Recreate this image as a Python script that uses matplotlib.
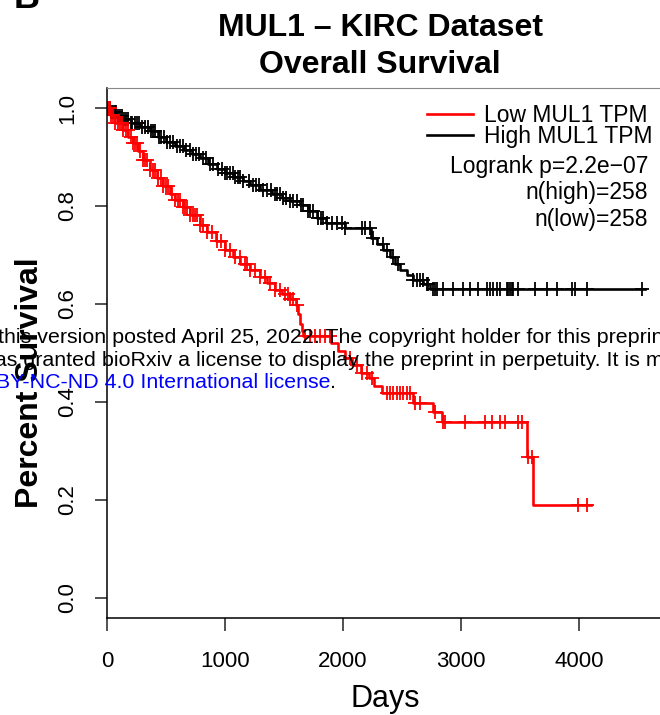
import numpy as np
import matplotlib
matplotlib.use("Agg")
import matplotlib.pyplot as plt

plt.rcParams['font.family'] = ['Liberation Sans', 'DejaVu Sans']

# Kaplan-Meier steps: day of step, survival after it
high_days = [0, 30, 80, 136, 200, 280, 364, 430, 500, 576, 650, 720, 788, 860,
             930, 1000, 1080, 1150, 1212, 1300, 1400, 1480, 1551, 1636, 1700,
             1780, 1860, 2017, 2240, 2290, 2340, 2398, 2440, 2483, 2540, 2593,
             2680, 2740]
high_surv = [1.0, 0.992, 0.984, 0.977, 0.969, 0.961, 0.953, 0.941, 0.930, 0.922,
             0.914, 0.906, 0.898, 0.886, 0.875, 0.867, 0.859, 0.851, 0.843,
             0.833, 0.824, 0.816, 0.810, 0.802, 0.790, 0.776, 0.765, 0.755,
             0.735, 0.722, 0.710, 0.696, 0.682, 0.669, 0.659, 0.649, 0.640, 0.630]
high_end = 4560
high_censor = [5, 12, 20, 28, 35, 45, 55, 65, 78, 90, 110, 125, 140, 160, 180,
               200, 215, 240, 255, 275, 300, 320, 345, 370, 390, 410, 440, 460,
               480, 510, 530, 560, 590, 615, 640, 670, 700, 730, 755, 780, 810,
               840, 870, 900, 940, 975, 1000, 1020, 1042, 1065, 1085, 1110, 1127,
               1153, 1200, 1237, 1260, 1290, 1322, 1356, 1390, 1420, 1441, 1470,
               1492, 1520, 1551, 1580, 1610, 1640, 1661, 1700, 1720, 1746, 1788,
               1810, 1831, 1864, 1907, 1949, 1992, 2017, 2161, 2186, 2229, 2254,
               2339, 2373, 2424, 2466, 2593, 2627, 2653, 2678, 2712, 2720, 2763,
               2780, 2797, 2847, 2932, 3017, 3076, 3144, 3220, 3246, 3271, 3305,
               3331, 3390, 3398, 3415, 3432, 3441, 3483, 3627, 3729, 3814, 3941,
               3966, 4068, 4534]

low_days = [0, 25, 70, 136, 180, 220, 260, 305, 364, 420, 475, 530, 576, 640,
            703, 788, 850, 920, 1000, 1068, 1130, 1212, 1297, 1360, 1424, 1480,
            1551, 1600, 1619, 1636, 1650, 1665, 1900, 1960, 2020, 2080, 2150,
            2220, 2260, 2330, 2593, 2763, 2839, 3559, 3610]
low_surv = [1.0, 0.986, 0.970, 0.955, 0.940, 0.929, 0.912, 0.893, 0.873, 0.857,
            0.841, 0.825, 0.812, 0.797, 0.782, 0.761, 0.746, 0.728, 0.710,
            0.696, 0.682, 0.669, 0.655, 0.642, 0.629, 0.620, 0.610, 0.598,
            0.580, 0.560, 0.545, 0.535, 0.520, 0.505, 0.490, 0.475, 0.460,
            0.448, 0.432, 0.418, 0.398, 0.380, 0.359, 0.288, 0.190]
low_end = 4100
low_censor = [6, 14, 22, 35, 51, 70, 93, 110, 125, 136, 160, 178, 200, 220, 240,
              254, 280, 305, 325, 339, 364, 390, 410, 432, 455, 475, 500, 517,
              551, 576, 602, 619, 644, 661, 678, 703, 725, 746, 763, 788, 814,
              850, 890, 932, 965, 1000, 1042, 1085, 1127, 1169, 1190, 1212, 1254,
              1297, 1339, 1381, 1424, 1466, 1508, 1530, 1551, 1580, 1610, 1678,
              1720, 1763, 1805, 1847, 1890, 2059, 2119, 2161, 2203, 2246, 2373,
              2398, 2424, 2458, 2483, 2508, 2542, 2568, 2610, 2653, 2780, 2847,
              2864, 3034, 3203, 3263, 3331, 3373, 3483, 3517, 3568, 3602, 3990,
              4070]

x_ticks = [0, 1000, 2000, 3000, 4000]
y_ticks = [0.0, 0.2, 0.4, 0.6, 0.8, 1.0]

W, H = 660, 715


def fx(px):
    return px / W


def fy(py):
    return 1 - py / H


fig = plt.figure(figsize=(W / 100, H / 100), dpi=100)
ax = fig.add_axes([fx(107), fy(617.6), (661.6 - 107) / W, (617.6 - 88.4) / H])


def km(days, surv, end, cens, color, label):
    t = np.append(days, end)
    s = np.append(surv, surv[-1])
    line, = ax.step(t, s, where='post', color=color, lw=1.9, label=label)
    idx = np.searchsorted(days, cens, side='right') - 1
    ax.plot(cens, np.array(surv)[idx], ls='none', marker='+', ms=10,
            mew=1.3, color=color)
    return line


h_line = km(high_days, high_surv, high_end, high_censor, 'black', 'High MUL1 TPM')
l_line = km(low_days, low_surv, low_end, low_censor, '#ff0000', 'Low MUL1 TPM')

ax.set_xlim(0, 4700)
ax.set_ylim(-0.04, 1.04)
ax.set_xticks(x_ticks)
ax.set_xticklabels([str(v) for v in x_ticks])
ax.set_yticks(y_ticks)
ax.set_yticklabels(['%.1f' % v for v in y_ticks], rotation=90, va='center')
ax.tick_params(length=9, width=1.1, labelsize=16, color='#222222')
ax.tick_params(axis='x', pad=15)
ax.tick_params(axis='y', pad=12)

for side in ['left', 'bottom']:
    ax.spines[side].set_linewidth(1.1)
ax.spines['top'].set_color('#888888')
ax.spines['top'].set_linewidth(0.8)
ax.spines['right'].set_visible(False)

ax.legend(handles=[l_line, h_line], loc='upper right',
          bbox_to_anchor=(fx(652), fy(104)), bbox_transform=fig.transFigure,
          frameon=False, fontsize=16.5, handlelength=2.0, handletextpad=0.45,
          labelspacing=-0.08, borderpad=0, borderaxespad=0)

stats = ['Logrank p=2.2e\u221207', 'n(high)=258', 'n(low)=258']
for i, s in enumerate(stats):
    fig.text(fx(648), fy(166 + 26.5 * i), s, ha='right', va='center', fontsize=16.5)

fig.text(fx(380), fy(28), 'MUL1 \u2013 KIRC Dataset', ha='center', va='center',
         fontsize=23, fontweight='bold')
fig.text(fx(380), fy(65), 'Overall Survival', ha='center', va='center',
         fontsize=23, fontweight='bold')
fig.text(fx(30), fy(383), 'Percent Survival', ha='center', va='center',
         rotation=90, fontsize=23, fontweight='bold')
fig.text(fx(385), fy(699), 'Days', ha='center', va='center', fontsize=22)
fig.text(fx(14), fy(8), 'B', ha='left', va='baseline', fontsize=26,
         fontweight='bold')

# bioRxiv footer bleeding over the panel
fig.text(fx(-2), fy(338), 'this version posted April 25, 2022. The copyright holder '
         'for this preprint (which was not certified by peer review)',
         ha='left', va='center', fontsize=15.4, zorder=10)
fig.text(fx(-17), fy(360), 'has granted bioRxiv a license to display the preprint '
         'in perpetuity. It is made available under',
         ha='left', va='center', fontsize=15.4, zorder=10)
lic = fig.text(fx(-54), fy(382), 'aCC-BY-NC-ND 4.0 International license',
               ha='left', va='center', fontsize=15.4, color='#0000ff', zorder=10)
ax.annotate('.', xy=(1, 0), xycoords=lic, ha='left', va='bottom',
            fontsize=15.4, zorder=10, annotation_clip=False)

fig.savefig('out.png', dpi=100)
